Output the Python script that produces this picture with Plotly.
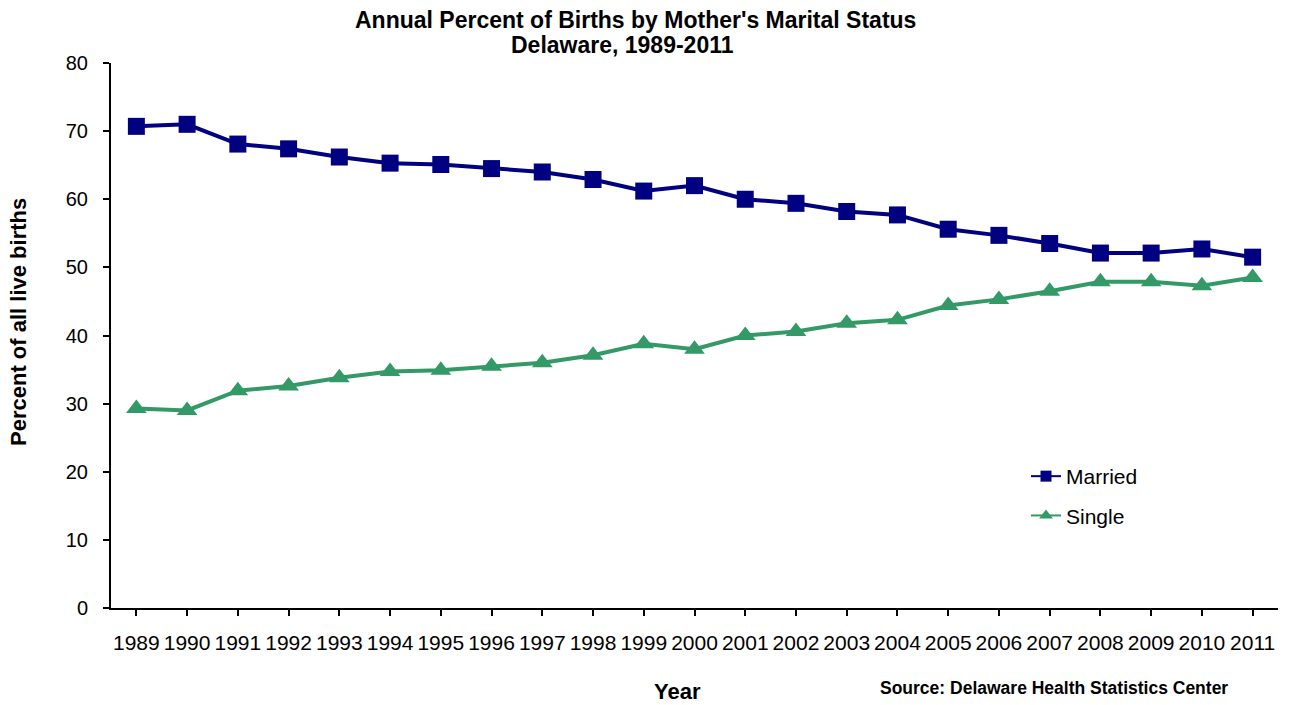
import plotly.graph_objects as go

# data
years = list(range(1989, 2012))
married = [70.7, 71.0, 68.1, 67.4, 66.2, 65.3, 65.1, 64.5, 64.0, 62.9, 61.2, 62.0,
           60.0, 59.4, 58.2, 57.7, 55.6, 54.7, 53.5, 52.1, 52.1, 52.7, 51.5]
single = [29.3, 29.0, 31.9, 32.6, 33.8, 34.7, 34.9, 35.5, 36.0, 37.1, 38.8, 38.0,
          40.0, 40.6, 41.8, 42.3, 44.4, 45.3, 46.5, 47.9, 47.9, 47.3, 48.5]
y_ticks = [0, 10, 20, 30, 40, 50, 60, 70, 80]

NAVY = "#000080"
GREEN = "#339966"
FONT = "Liberation Sans, Arial, sans-serif"

# plot area in pixels
L, R, T, B = 111, 1278, 63, 608

fig = go.Figure()

# main series (legend shown through the slim entries below)
fig.add_trace(go.Scatter(x=years, y=married, mode="lines+markers", showlegend=False,
                         line=dict(color=NAVY, width=4),
                         marker=dict(symbol="square", size=17, color=NAVY)))
fig.add_trace(go.Scatter(x=years, y=single, mode="lines+markers", showlegend=False,
                         line=dict(color=GREEN, width=4),
                         marker=dict(symbol="triangle-up", size=18, color=GREEN)))

# legend entries with thin lines like the original
fig.add_trace(go.Scatter(x=[None], y=[None], mode="lines+markers", name="Married",
                         legendgroup="m", line=dict(color=NAVY, width=2),
                         marker=dict(symbol="square", size=11, color=NAVY)))
fig.add_trace(go.Scatter(x=[None], y=[None], mode="lines+markers", name="Single",
                         legendgroup="s", line=dict(color=GREEN, width=2),
                         marker=dict(symbol="triangle-up", size=12, color=GREEN)))


def px_x(x):
    return (x - L) / (R - L)


def px_y(y):
    return (B - y) / (B - T)


# texts placed by pixel position
texts = [
    ("<b>Annual Percent of Births by Mother's Marital Status</b>", 635, 20, 23, 0),
    ("<b>Delaware, 1989-2011</b>", 622, 45, 23, 0),
    ("<b>Percent of all live births</b>", 18, 322, 22, -90),
    ("<b>Year</b>", 677, 691, 22, 0),
    ("<b>Source: Delaware Health Statistics Center</b>", 1054, 688, 17.5, 0),
]
annotations = [dict(text=t, x=px_x(x), y=px_y(y), xref="paper", yref="paper",
                    xanchor="center", yanchor="middle", showarrow=False,
                    textangle=ang, font=dict(size=s))
               for t, x, y, s, ang in texts]

fig.update_layout(
    width=1290, height=705,
    margin=dict(l=L, r=1290 - R, t=T, b=705 - B),
    paper_bgcolor="white", plot_bgcolor="white",
    font=dict(family=FONT, color="black"),
    legend=dict(x=px_x(1026), y=px_y(456), xanchor="left", yanchor="top",
                font=dict(size=21), tracegroupgap=9, traceorder="grouped",
                bgcolor="rgba(0,0,0,0)"),
    annotations=annotations,
)

fig.update_xaxes(range=[1988.5, 2011.5], tickvals=years, ticktext=[str(y) for y in years],
                 showgrid=False, zeroline=False, showline=True, linecolor="black",
                 linewidth=2, ticks="outside", ticklen=6, tickwidth=1.5,
                 tickcolor="black", tickfont=dict(size=21), ticklabelstandoff=9)
fig.update_yaxes(range=[0, 80], tickvals=y_ticks, showgrid=False, zeroline=False,
                 showline=True, linecolor="black", linewidth=2, ticks="outside",
                 ticklen=6, tickwidth=1.5, tickcolor="black", tickfont=dict(size=20),
                 ticklabelstandoff=11)

fig.write_html("out.html", config={"displayModeBar": False},
               post_script="document.body.style.margin='0';")
